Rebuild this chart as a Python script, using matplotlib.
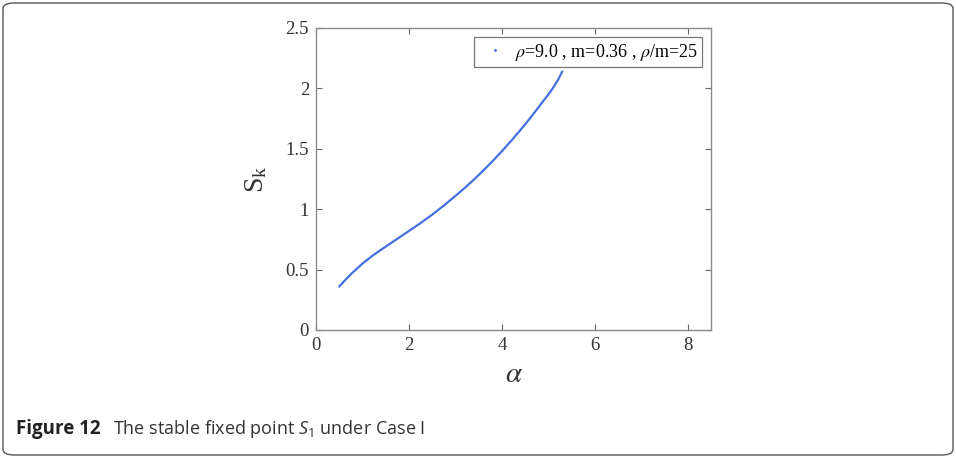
import matplotlib
matplotlib.use("Agg")
import matplotlib.pyplot as plt
from matplotlib.patches import FancyBboxPatch
from matplotlib.lines import Line2D

plt.rcParams["mathtext.fontset"] = "custom"
plt.rcParams["mathtext.rm"] = "Open Sans"
plt.rcParams["mathtext.it"] = "Open Sans:italic"

# Stable fixed point S_k versus alpha (rho = 9.0, m = 0.36)
alpha = [0.5, 0.6, 0.75, 1.0, 1.25, 1.5, 1.75, 2.0, 2.25, 2.5, 2.75, 3.0,
         3.2, 3.4, 3.6, 3.8, 4.0, 4.2, 4.4, 4.6, 4.8, 5.05, 5.2, 5.3]
s_k = [0.36, 0.402, 0.462, 0.55, 0.625, 0.69, 0.755, 0.82, 0.885, 0.955,
       1.03, 1.11, 1.176, 1.246, 1.32, 1.398, 1.48, 1.566, 1.656, 1.75,
       1.85, 1.975, 2.065, 2.14]

x_ticks = [0, 2, 4, 6, 8]
y_ticks = [0, 0.5, 1, 1.5, 2, 2.5]
y_tick_labels = ["0", "0.5", "1", "1.5", "2", "2.5"]
legend_label = r"$\rho$=9.0 , m=0.36 , $\rho$/m=25"
caption_bold = "Figure 12"
caption_text = r"The stable fixed point $S_\mathrm{1}$ under Case I"

W, H = 956, 458
fig = plt.figure(figsize=(W / 100, H / 100), dpi=100)
fig.patch.set_facecolor("white")

# rounded frame around the figure panel
frame = FancyBboxPatch((3 / W, 3 / H), 950 / W, 452 / H,
                       boxstyle="round,pad=0,rounding_size=0.012",
                       transform=fig.transFigure, fill=False,
                       edgecolor="#555555", linewidth=1.0)
fig.patches.append(frame)

ax = fig.add_axes([316 / W, (H - 330) / H, (711 - 316) / W, (330 - 28) / H])
line_color = "#4470e0"
ax.plot(alpha, s_k, color=line_color, linewidth=1.6,
        solid_joinstyle="round", solid_capstyle="round")

ax.set_xlim(0, 8.5)
ax.set_ylim(0, 2.5)
ax.set_xticks(x_ticks)
ax.set_yticks(y_ticks)
ax.set_yticklabels(y_tick_labels)

serif = "Liberation Serif"
for lab in ax.get_xticklabels() + ax.get_yticklabels():
    lab.set_fontfamily(serif)
    lab.set_fontsize(13.5)
    lab.set_color("#333333")

ax.tick_params(direction="in", top=True, right=True, length=4,
               width=0.8, color="#666666", pad=5)
for sp in ax.spines.values():
    sp.set_color("#8a8a8a")
    sp.set_linewidth(1.0)

ax.set_xlabel(r"$\alpha$", fontsize=21, color="#333333", labelpad=4,
              math_fontfamily="stix")
ax.set_ylabel(r"$\mathregular{S_k}$", fontsize=20, color="#333333",
              family=serif, labelpad=12, math_fontfamily="stix")

handle = Line2D([], [], linestyle="none", marker=".", markersize=2,
                color=line_color)
leg = ax.legend([handle], [legend_label], loc="upper right",
                bbox_to_anchor=((702 - 316) / 395, (330 - 37) / 302),
                frameon=True, fancybox=False,
                prop={"family": serif, "size": 13}, handlelength=1.8,
                borderpad=0.25, handletextpad=0.2, borderaxespad=0)
leg.get_frame().set_edgecolor("#555555")
leg.get_frame().set_linewidth(0.9)
for t in leg.get_texts():
    t.set_math_fontfamily("stix")

fig.text(16 / W, (H - 429) / H, caption_bold, fontsize=13.5, fontweight="bold",
         family="Open Sans", color="#222222", va="center")
fig.text(113 / W, (H - 429) / H, caption_text, fontsize=13,
         family="Open Sans", color="#333333", va="center",
         math_fontfamily="custom")

fig.savefig("out.png", dpi=100)
